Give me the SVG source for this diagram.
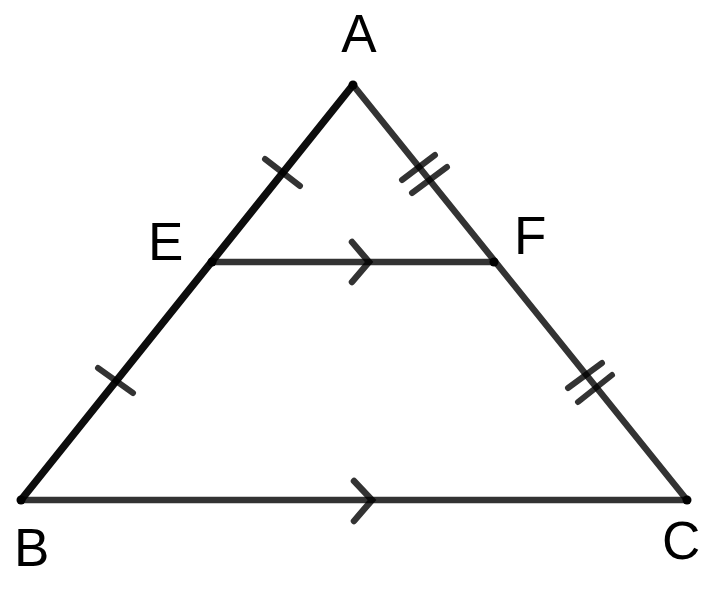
<svg xmlns="http://www.w3.org/2000/svg" width="712" height="592" viewBox="0 0 712 592">
<style>
.seg{stroke:#000;stroke-opacity:0.8;stroke-width:6.5;stroke-linecap:round;fill:none}
.dark{stroke:#000;stroke-opacity:0.95;stroke-width:7.5;stroke-linecap:round;fill:none}
.tick{stroke:#000;stroke-opacity:0.8;stroke-width:6;stroke-linecap:round;fill:none}
.lbl{font-family:"Liberation Sans",Arial,sans-serif;font-size:53px;fill:#000}
.dot{fill:#000}
</style>
<rect width="712" height="592" fill="#fff"/>
<g id="connectors">
<line class="dark" x1="353" y1="85" x2="21" y2="500"/>
<line class="seg" x1="353" y1="85" x2="687" y2="500"/>
<line class="seg" x1="21" y1="500" x2="687" y2="500"/>
<line class="seg" x1="212" y1="262" x2="494" y2="262"/>
<polyline class="seg" points="352,242 369,262 352,282"/>
<polyline class="seg" points="354,481 372,500 354,521"/>
<line class="tick" x1="265" y1="159" x2="300" y2="186"/>
<line class="tick" x1="98" y1="368" x2="133" y2="393"/>
<line class="tick" x1="402" y1="180" x2="435" y2="155"/>
<line class="tick" x1="412" y1="193" x2="447" y2="167"/>
<line class="tick" x1="568" y1="388" x2="602" y2="363"/>
<line class="tick" x1="578" y1="402" x2="612" y2="375"/>
</g>
<g id="A"><circle class="dot" cx="353" cy="85" r="4.5"/><text class="lbl" x="359" y="52" text-anchor="middle">A</text></g>
<g id="B"><circle class="dot" cx="21" cy="500" r="4.5"/><text class="lbl" x="14" y="566">B</text></g>
<g id="C"><circle class="dot" cx="687" cy="500" r="4.5"/><text class="lbl" x="662" y="559">C</text></g>
<g id="E"><circle class="dot" cx="212" cy="262" r="4.5"/><text class="lbl" x="148" y="260">E</text></g>
<g id="F"><circle class="dot" cx="494" cy="262" r="4.5"/><text class="lbl" x="514" y="254">F</text></g>
</svg>
